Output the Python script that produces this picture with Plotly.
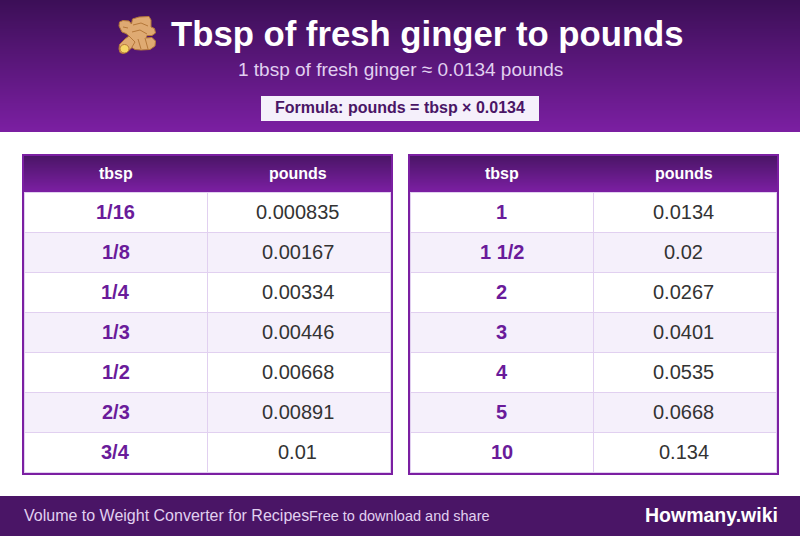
#!/usr/bin/env python
"""Tbsp of fresh ginger to pounds - conversion card, drawn on a pixel-sized canvas."""

import plotly.graph_objects as go

# ------------------------------------------------------------------
# Data
# ------------------------------------------------------------------
TITLE = "Tbsp of fresh ginger to pounds"
SUBTITLE = "1 tbsp of fresh ginger ≈ 0.0134 pounds"
FORMULA = "Formula: pounds = tbsp × 0.0134"
FOOTER_LEFT = "Volume to Weight Converter for Recipes"
FOOTER_MID = "Free to download and share"
BRAND = "Howmany.wiki"
COLUMNS = ["tbsp", "pounds"]

tbsp_left = ["1/16", "1/8", "1/4", "1/3", "1/2", "2/3", "3/4"]
pounds_left = ["0.000835", "0.00167", "0.00334", "0.00446", "0.00668", "0.00891", "0.01"]
tbsp_right = ["1", "1 1/2", "2", "3", "4", "5", "10"]
pounds_right = ["0.0134", "0.02", "0.0267", "0.0401", "0.0535", "0.0668", "0.134"]

# ------------------------------------------------------------------
# Style
# ------------------------------------------------------------------
W, H = 800, 536
FONT = "Liberation Sans"
DARK = (60, 15, 87)
MID = (74, 21, 102)
PURPLE = (123, 31, 162)
FOOTER = "#4a1566"
LABEL = "#6a1b9a"
ALT_ROW = "#f5f0fb"
GRID = "#e1d0f0"
VALUE = "#333333"
SOFT = "#e1d0f0"

shapes = []
notes = []


def rect(x0, y0, x1, y1, fill, line=None, width=0):
    shapes.append(dict(type="rect", x0=x0, y0=y0, x1=x1, y1=y1, fillcolor=fill,
                       line=dict(color=line, width=width) if line else dict(width=0),
                       layer="below"))


def hline(x0, x1, y, color, width=1):
    shapes.append(dict(type="line", x0=x0, x1=x1, y0=y, y1=y,
                       line=dict(color=color, width=width), layer="below"))


def vline(x, y0, y1, color, width=1):
    shapes.append(dict(type="line", x0=x, x1=x, y0=y0, y1=y1,
                       line=dict(color=color, width=width), layer="below"))


def gradient(x0, y0, x1, y1, top, bottom):
    # no gradient on shapes, so stack 1px strips
    n = y1 - y0
    for i in range(n):
        t = i / max(n - 1, 1)
        c = [round(a + (b - a) * t) for a, b in zip(top, bottom)]
        rect(x0, y0 + i, x1, y0 + i + 1, f"rgb({c[0]},{c[1]},{c[2]})")


def text(x, y, s, size, color, bold=False, anchor="center"):
    if bold:
        s = f"<b>{s}</b>"
    notes.append(dict(x=x, y=y, text=s, showarrow=False, xanchor=anchor, yanchor="middle",
                      font=dict(family=FONT, size=size, color=color)))


def table(x0, labels, values):
    x1 = x0 + 371
    mid = x0 + 185.5
    rect(x0 + 1, 155, x1 - 1, 474, "white")
    gradient(x0 + 1, 155, x1 - 1, 192, MID, PURPLE)
    text(x0 + 93.5, 173.5, COLUMNS[0], 16, "white", bold=True)
    text(x0 + 275.5, 173.5, COLUMNS[1], 16, "white", bold=True)
    # backgrounds first, the separators go on top of them
    for i in range(len(labels)):
        if i % 2:
            rect(x0 + 2, 192 + i * 40, x1 - 2, 232 + i * 40, ALT_ROW)
    for i, (lab, val) in enumerate(zip(labels, values)):
        top = 192 + i * 40
        hline(x0 + 2, x1 - 2, top + 40.5, GRID)
        text(x0 + 93.5, top + 20, lab, 20, LABEL, bold=True)
        text(x0 + 275.5, top + 20, val, 20, VALUE)
    vline(mid, 192, 473, GRID)
    hline(x0 + 2, x1 - 2, 192.5, GRID)
    vline(x0 + 2.5, 192, 473, GRID)
    vline(x1 - 2.5, 192, 473, GRID)
    rect(x0 + 1, 155, x1 - 1, 474, "rgba(0,0,0,0)", line="#7b1fa2", width=2)


# ------------------------------------------------------------------
# Build card
# ------------------------------------------------------------------
gradient(0, 0, W, 132, DARK, PURPLE)
rect(0, 496, W, H, FOOTER)
rect(261, 96, 539, 121, ALT_ROW)

text(169, 33.5, TITLE, 34.7, "white", bold=True, anchor="left")
text(400, 69.5, SUBTITLE, 19, SOFT)
text(400, 107.5, FORMULA, 16, "#4a1566", bold=True)

table(22, tbsp_left, pounds_left)
table(408, tbsp_right, pounds_right)

text(22, 515.5, FOOTER_LEFT, 16, SOFT, anchor="left")
text(307, 516, FOOTER_MID, 14.5, SOFT, anchor="left")
text(780, 514.5, BRAND, 19.5, "white", bold=True, anchor="right")

# ginger icon (no emoji font on the box)
ROOT = ("M132.5 19 L139 17 L149 16.5 L151 20 L151 27 L154.5 28.5 L155.5 33 L152 35.5 L147 35.5 "
        "L146 38 L152 37.5 L155.5 41 L155 46 L150 49.5 L141 50 L135 49.5 L132 47.5 "
        "L127 52 L123 53.5 L120 52.5 L119 49 L119.5 44.5 L125 39 L129 36 L126 33.5 L122 32 "
        "L119 26 L119.5 22 L123 20.5 L129 21 L131.5 24 Z")
shapes.append(dict(type="path", path=ROOT, fillcolor="#dfaa72", line=dict(color="#b5783a", width=1)))
for seam in ["M133 25 L141 23 L148 26", "M132 32 L140 30 L147 34", "M138 39 L141 49",
             "M145 38 L148 49", "M123 27 L128 28", "M129 36 L135 42 L132 47"]:
    shapes.append(dict(type="path", path=seam, line=dict(color="#b5783a", width=1)))
shapes.append(dict(type="circle", x0=120, y0=44.5, x1=129, y1=53, fillcolor="#f6d766",
                   line=dict(color="#b5783a", width=1)))

# ------------------------------------------------------------------
# Figure
# ------------------------------------------------------------------
fig = go.Figure()
fig.update_layout(
    width=W,
    height=H,
    margin=dict(l=0, r=0, t=0, b=0),
    paper_bgcolor="white",
    plot_bgcolor="white",
    showlegend=False,
    shapes=shapes,
    annotations=notes,
    xaxis=dict(range=[0, W], visible=False, fixedrange=True),
    yaxis=dict(range=[H, 0], visible=False, fixedrange=True),
)

fig.write_html("out.html", config={"displayModeBar": False},
               post_script="document.body.style.margin='0';document.body.style.overflow='hidden';")
